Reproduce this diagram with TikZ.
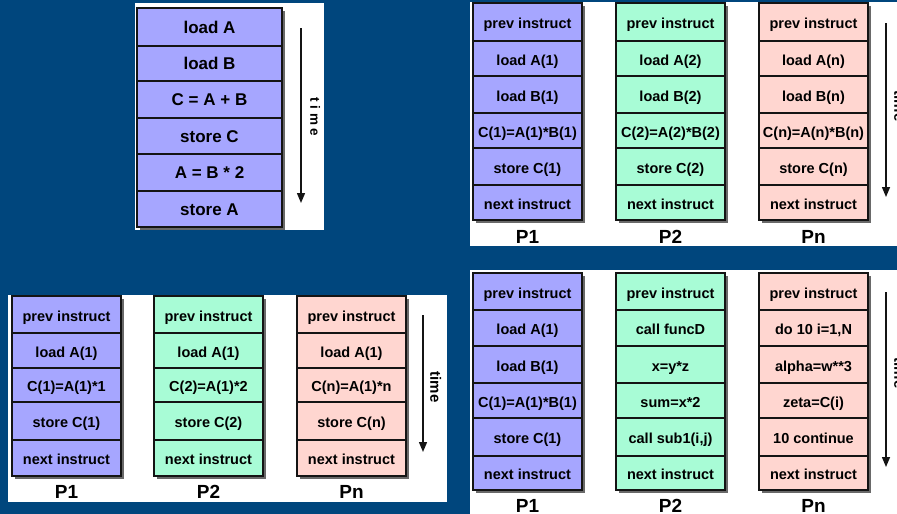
\documentclass[tikz,border=0pt]{standalone}
\usepackage{fontspec}
\setmainfont{Liberation Sans}
\usetikzlibrary{arrows.meta}
\definecolor{bgblue}{RGB}{0,70,125}
\definecolor{cblue}{RGB}{166,166,255}
\definecolor{cgreen}{RGB}{168,252,214}
\definecolor{cpink}{RGB}{255,214,208}
\definecolor{edgec}{RGB}{20,20,20}
\definecolor{shadowc}{RGB}{105,105,105}
\newcommand\cellbox[7]{\node[cell,fill=#6,minimum width={(#3-#2)*1pt},minimum height={(#5-#4)*1pt}] (#1) at ({(#2+#3)/2},{(#4+#5)/2}) {#7};}
\newcommand\colshadow[4]{\fill[shadowc] (#1+3,#3+3) rectangle (#2+3,#4+3);}
\begin{document}
\begin{tikzpicture}[x=1pt,y=-1pt,
  cell/.style={draw=edgec,line width=1.6pt,inner sep=0pt,text=black,text height=13pt,text depth=0pt,font=\fontsize{14.5}{16}\selectfont\bfseries},
  bigcell/.style={text height=12.2pt,text depth=0pt,font=\fontsize{17}{19}\selectfont\bfseries},
  plabel/.style={anchor=base,inner sep=0pt,font=\fontsize{19}{20}\selectfont\bfseries},
  timearrow/.style={draw=edgec,line width=1.4pt,-{Triangle[width=8pt,length=10pt]}},
  timelab/.style={rotate=-90,anchor=south,inner sep=0pt,font=\fontsize{15}{16}\selectfont\bfseries},
  timelabsp/.style={rotate=-90,anchor=south,inner sep=0pt,font=\fontsize{13.5}{15}\selectfont\bfseries}]
\useasboundingbox (0,0) rectangle (897,514);
\clip (0,0) rectangle (897,514);
\fill[bgblue] (0,0) rectangle (897,514);
% white panels
\fill[white] (135,3) rectangle (324,230);
\fill[white] (470,2) rectangle (897,246);
\fill[white] (8,295) rectangle (447,502);
\fill[white] (470,270) rectangle (897,514);

% ---------- panel 1 (serial) ----------
\colshadow{137}{282}{8}{227}
\foreach \t/\ya/\yb [count=\i] in {load A/8/46, load B/46/81, C = A + B/81/118, store C/118/154, A = B * 2/154/191, store A/191/227}
  {\node[cell,bigcell,fill=cblue,minimum width=145pt,minimum height={(\yb-\ya)*1pt}] (s\i) at (209.5,{(\ya+\yb)/2}) {\t};}
\coordinate (t1a) at (301,28);
\coordinate (t1b) at (301,203);
\draw[timearrow] (t1a) -- (t1b);
\node[timelabsp] (time1) at (310,117) {t i m e};

% ---------- panel 2 (top right) ----------
\colshadow{473}{582}{3}{220}
\colshadow{616}{725}{3}{220}
\colshadow{759}{868}{3}{220}
\foreach \t/\ya/\yb [count=\i] in {prev instruct/3/41, load A(1)/41/76, load B(1)/76/113, C(1)=A(1)*B(1)/113/148, store C(1)/148/185, next instruct/185/220}
  {\cellbox{ba\i}{473}{582}{\ya}{\yb}{cblue}{\t}}
\foreach \t/\ya/\yb [count=\i] in {prev instruct/3/41, load A(2)/41/76, load B(2)/76/113, C(2)=A(2)*B(2)/113/148, store C(2)/148/185, next instruct/185/220}
  {\cellbox{bb\i}{616}{725}{\ya}{\yb}{cgreen}{\t}}
\foreach \t/\ya/\yb [count=\i] in {prev instruct/3/41, load A(n)/41/76, load B(n)/76/113, C(n)=A(n)*B(n)/113/148, store C(n)/148/185, next instruct/185/220}
  {\cellbox{bc\i}{759}{868}{\ya}{\yb}{cpink}{\t}}
\node[plabel] (bP1) at (527.5,243) {P1};
\node[plabel] (bP2) at (670.5,243) {P2};
\node[plabel] (bPn) at (813.5,243) {Pn};
\coordinate (t2a) at (886,23);
\coordinate (t2b) at (886,197);
\draw[timearrow] (t2a) -- (t2b);
\node[timelab] (time2) at (894,106) {time};

% ---------- panel 3 (bottom left) ----------
\colshadow{12}{121}{296}{476}
\colshadow{154}{263}{296}{476}
\colshadow{297}{406}{296}{476}
\foreach \t/\ya/\yb [count=\i] in {prev instruct/296/333, load A(1)/333/368, C(1)=A(1)*1/368/402, store C(1)/402/440, next instruct/440/476}
  {\cellbox{ca\i}{12}{121}{\ya}{\yb}{cblue}{\t}}
\foreach \t/\ya/\yb [count=\i] in {prev instruct/296/333, load A(1)/333/368, C(2)=A(1)*2/368/402, store C(2)/402/440, next instruct/440/476}
  {\cellbox{cb\i}{154}{263}{\ya}{\yb}{cgreen}{\t}}
\foreach \t/\ya/\yb [count=\i] in {prev instruct/296/333, load A(1)/333/368, C(n)=A(1)*n/368/402, store C(n)/402/440, next instruct/440/476}
  {\cellbox{cc\i}{297}{406}{\ya}{\yb}{cpink}{\t}}
\node[plabel] (cP1) at (66.5,498) {P1};
\node[plabel] (cP2) at (208.5,498) {P2};
\node[plabel] (cPn) at (351.5,498) {Pn};
\coordinate (t3a) at (423,315);
\coordinate (t3b) at (423,452);
\draw[timearrow] (t3a) -- (t3b);
\node[timelab] (time3) at (430,387) {time};

% ---------- panel 4 (bottom right) ----------
\colshadow{473}{582}{273}{490}
\colshadow{616}{725}{273}{490}
\colshadow{759}{868}{273}{490}
\foreach \t/\ya/\yb [count=\i] in {prev instruct/273/310, load A(1)/310/346, load B(1)/346/383, C(1)=A(1)*B(1)/383/418, store C(1)/418/456, next instruct/456/490}
  {\cellbox{da\i}{473}{582}{\ya}{\yb}{cblue}{\t}}
\foreach \t/\ya/\yb [count=\i] in {prev instruct/273/310, call funcD/310/346, x=y*z/346/383, sum=x*2/383/418, {call sub1(i,j)}/418/456, next instruct/456/490}
  {\cellbox{db\i}{616}{725}{\ya}{\yb}{cgreen}{\t}}
\foreach \t/\ya/\yb [count=\i] in {prev instruct/273/310, {do 10 i=1,N}/310/346, alpha=w**3/346/383, zeta=C(i)/383/418, 10 continue/418/456, next instruct/456/490}
  {\cellbox{dc\i}{759}{868}{\ya}{\yb}{cpink}{\t}}
\node[plabel] (dP1) at (527.5,512) {P1};
\node[plabel] (dP2) at (670.5,512) {P2};
\node[plabel] (dPn) at (813.5,512) {Pn};
\coordinate (t4a) at (886,292);
\coordinate (t4b) at (886,467);
\draw[timearrow] (t4a) -- (t4b);
\node[timelab] (time4) at (894,373) {time};
\end{tikzpicture}
\end{document}
